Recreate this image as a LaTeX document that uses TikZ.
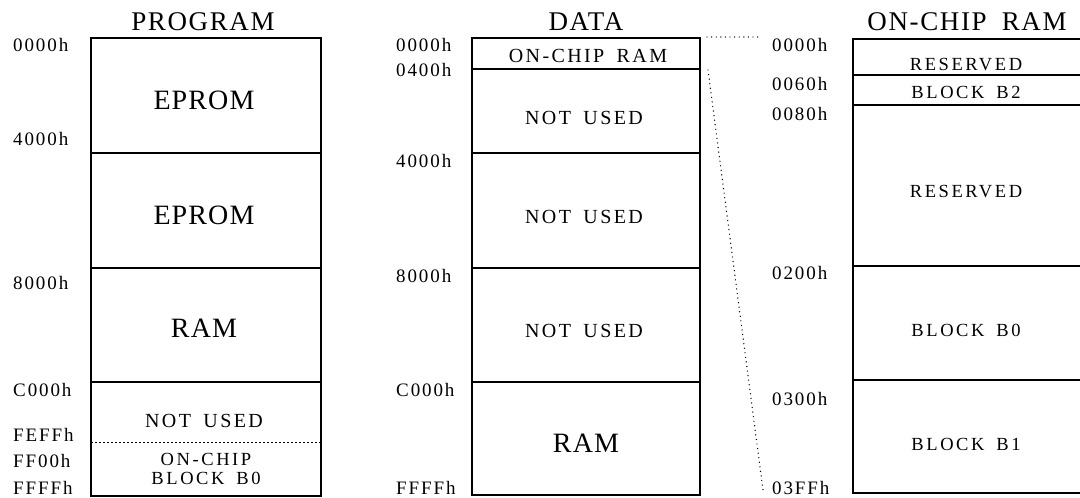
\documentclass[tikz,border=0pt]{standalone}
\usepackage{fontspec}
\setmainfont{Liberation Serif}
% font sets for the memory maps
\newcommand{\ttlfont}{\fontsize{27}{30}\selectfont\addfontfeature{LetterSpace=6}}
\newcommand{\bigfont}{\fontsize{28}{32}\selectfont\addfontfeature{LetterSpace=4}}
\newcommand{\midfont}{\fontsize{20}{23}\selectfont\addfontfeature{LetterSpace=12}}
\newcommand{\smlfont}{\fontsize{18.5}{21}\selectfont\addfontfeature{LetterSpace=14}}
\newcommand{\adrfont}{\fontsize{19}{22}\selectfont\addfontfeature{LetterSpace=10}}
\newcommand{\gap}{\hspace{0.25em}}
\tikzset{
  lbl/.style={anchor=base, inner sep=0pt},
  title/.style={lbl, font=\ttlfont},
  bigtxt/.style={lbl, font=\bigfont},
  midtxt/.style={lbl, font=\midfont},
  smltxt/.style={lbl, font=\smlfont},
  addr/.style={anchor=base west, inner sep=0pt, font=\adrfont},
  frame/.style={line width=1.2pt},
  finedot/.style={line width=0.9pt, dash pattern=on 2pt off 2pt},
  link/.style={line width=1.4pt, line cap=round, dash pattern=on 0pt off 4.6pt}
}
\begin{document}
\begin{tikzpicture}[x=1pt,y=-1pt]
\useasboundingbox (0,0) rectangle (1080,498);

% ---------------- program memory ----------------
\node[title] (tp) at (203,30) {PROGRAM};
\draw[frame] (91,38) rectangle (321,496);
\draw[frame] (91,153) -- (321,153) (91,268) -- (321,268) (91,382) -- (321,382);
\draw[finedot] (91,442) -- (321,442);
\node[bigtxt] (p1) at (204,109) {EPROM};
\node[bigtxt] (p2) at (204,224) {EPROM};
\node[bigtxt] (p3) at (204,337) {RAM};
\node[midtxt] (p4) at (204,427) {NOT \gap USED};
\node[smltxt] (p5) at (206,465) {ON-CHIP};
\node[smltxt] (p6) at (206,484) {BLOCK \gap B0};
\node[addr] (pa0) at (13,51) {0000h};
\node[addr] (pa1) at (13,145) {4000h};
\node[addr] (pa2) at (13,289) {8000h};
\node[addr] (pa3) at (13,396) {C000h};
\node[addr] (pa4) at (13,441) {FEFFh};
\node[addr] (pa5) at (13,467) {FF00h};
\node[addr] (pa6) at (13,494) {FFFFh};

% ---------------- data memory ----------------
\node[title] (td) at (586,30) {DATA};
\draw[frame] (472,38) rectangle (700,495);
\draw[frame] (472,69) -- (700,69) (472,153) -- (700,153) (472,268) -- (700,268) (472,382) -- (700,382);
\node[midtxt] (d0) at (588,62) {ON-CHIP \gap RAM};
\node[midtxt] (d1) at (584,124) {NOT \gap USED};
\node[midtxt] (d2) at (584,223) {NOT \gap USED};
\node[midtxt] (d3) at (584,337) {NOT \gap USED};
\node[bigtxt] (d4) at (586,452) {RAM};
\node[addr] (da0) at (396,51) {0000h};
\node[addr] (da1) at (396,76) {0400h};
\node[addr] (da2) at (396,167) {4000h};
\node[addr] (da3) at (396,282) {8000h};
\node[addr] (da4) at (396,396) {C000h};
\node[addr] (da5) at (396,494) {FFFFh};

% ---------------- on-chip RAM ----------------
\node[title] (tr) at (967,30) {ON-CHIP \gap RAM};
\draw[frame] (1082,39) -- (853,39) -- (853,493) -- (1082,493);
\draw[frame] (853,75) -- (1082,75) (853,105) -- (1082,105) (853,266) -- (1082,266) (853,380) -- (1082,380);
\node[smltxt] (r0) at (966,70) {RESERVED};
\node[smltxt] (r1) at (966,98) {BLOCK \gap B2};
\node[smltxt] (r2) at (966,197) {RESERVED};
\node[smltxt] (r3) at (966,336) {BLOCK \gap B0};
\node[smltxt] (r4) at (966,450) {BLOCK \gap B1};
\node[addr] (ra0) at (772,51) {0000h};
\node[addr] (ra1) at (772,90) {0060h};
\node[addr] (ra2) at (772,120) {0080h};
\node[addr] (ra3) at (772,279) {0200h};
\node[addr] (ra4) at (772,405) {0300h};
\node[addr] (ra5) at (772,494) {03FFh};

% ---------------- expansion of the on-chip block ----------------
\coordinate (ocTop) at (707,37);
\coordinate (ocTopEnd) at (759,37);
\coordinate (ocBot) at (708,70);
\coordinate (ocBotEnd) at (763,490);
\draw[link] (ocTop) -- (ocTopEnd);
\draw[link] (ocBot) -- (ocBotEnd);
\end{tikzpicture}
\end{document}
